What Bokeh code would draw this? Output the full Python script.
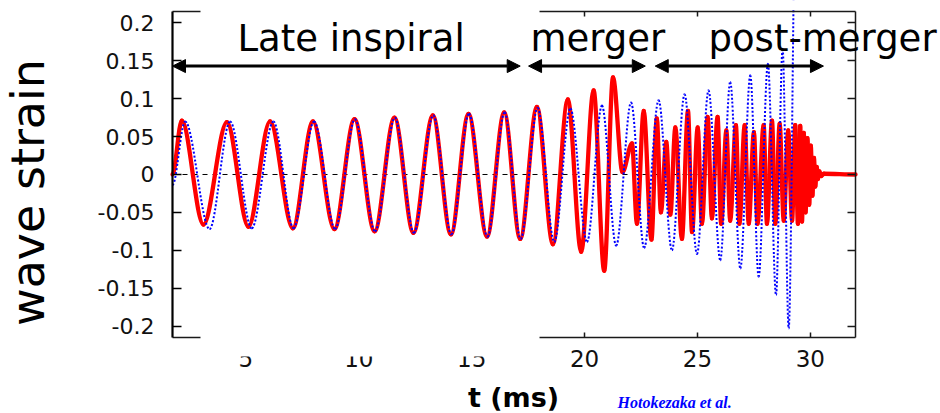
import numpy as np
from bokeh.plotting import figure
from bokeh.models import (Range1d, LinearAxis, FixedTicker, Label, Arrow, NormalHead,
                          BoxAnnotation, CustomJSTickFormatter, ColumnDataSource)
from bokeh.embed import file_html
from bokeh.resources import INLINE

# ---- data: successive extrema (time in ms, strain) ----
red_t = [1.75, 2.16, 3.12, 4.16, 5.11, 6.07, 7.08, 7.97, 8.92, 9.81, 10.70, 11.58, 12.42,
         13.28, 14.08, 14.86, 15.68, 16.44, 17.15, 17.89, 18.60, 19.26, 19.85, 20.40, 20.87,
         21.26, 21.68, 22.10, 22.32, 22.62, 22.96, 23.20, 23.38, 23.62, 23.80, 24.02, 24.31,
         24.58, 24.76, 25.01, 25.20, 25.45, 25.64, 25.89, 26.05, 26.28, 26.45, 26.70, 26.86,
         27.09, 27.27, 27.50, 27.66, 27.93, 28.08, 28.30, 28.45, 28.64, 28.82, 29.02, 29.19,
         29.33, 29.45, 29.55, 29.63, 29.71, 29.79, 29.87, 29.95, 30.02, 30.09, 30.16, 30.22,
         30.28, 30.34, 30.40, 30.48, 30.60, 32.00]
red_h = [0.000, 0.071, -0.066, 0.069, -0.069, 0.070, -0.071, 0.070, -0.072, 0.073, -0.075,
         0.075, -0.077, 0.078, -0.079, 0.080, -0.082, 0.082, -0.085, 0.089, -0.092, 0.099,
         -0.102, 0.111, -0.127, 0.128, 0.003, 0.041, -0.065, 0.084, -0.086, 0.074, -0.050,
         0.043, -0.053, 0.062, -0.085, 0.084, -0.076, 0.062, -0.065, 0.076, -0.058, 0.076,
         -0.065, 0.058, -0.061, 0.065, -0.065, 0.065, -0.065, 0.056, -0.065, 0.065, -0.065,
         0.071, -0.065, 0.067, -0.061, 0.058, -0.061, 0.065, -0.065, 0.064, -0.062, 0.055,
         -0.050, 0.048, -0.040, 0.038, -0.028, 0.022, -0.016, 0.010, -0.006, 0.004, -0.002,
         0.001, 0.000]

blue_t = [1.75, 2.31, 3.39, 4.30, 5.26, 6.22, 7.11, 8.02, 8.95, 9.83, 10.72, 11.60, 12.44,
          13.30, 14.10, 14.88, 15.70, 16.46, 17.17, 17.92, 18.66, 19.37, 20.11, 20.77, 21.40,
          22.06, 22.64, 23.28, 23.87, 24.43, 24.98, 25.49, 26.01, 26.45, 26.90, 27.34, 27.71,
          28.12, 28.48, 28.77, 29.04, 29.38]
blue_h = [-0.014, 0.070, -0.072, 0.070, -0.071, 0.070, -0.071, 0.070, -0.072, 0.073, -0.075,
          0.075, -0.077, 0.078, -0.079, 0.080, -0.082, 0.082, -0.085, 0.088, -0.089, 0.087,
          -0.089, 0.091, -0.094, 0.095, -0.097, 0.098, -0.100, 0.106, -0.105, 0.111, -0.113,
          0.122, -0.124, 0.131, -0.135, 0.146, -0.159, 0.166, -0.203, 0.420]

x_ticks = [5, 10, 15, 20, 25, 30]
y_ticks = [-0.2, -0.15, -0.1, -0.05, 0, 0.05, 0.1, 0.15, 0.2]

phase_names = ["Late inspiral", "merger", "post-merger"]
phase_start = [1.75, 17.52, 23.13]
phase_end = [17.15, 22.69, 30.58]
phase_level = 0.143

# plot box limits (data units)
T_MIN, T_MAX = 1.75, 32.0
H_LIM = 0.215


def bezier_source(t, h):
    t = np.asarray(t, float)
    h = np.asarray(h, float)
    dt = np.diff(t)
    return ColumnDataSource(dict(
        x0=t[:-1], y0=h[:-1], x1=t[1:], y1=h[1:],
        cx0=t[:-1] + dt / 3.0, cy0=h[:-1], cx1=t[1:] - dt / 3.0, cy1=h[1:]))


# the frame spans the whole canvas; the plot box is drawn by axes fixed at its edges
p = figure(width=940, height=413, x_range=Range1d(-5.868, 35.764),
           y_range=Range1d(-0.31525, 0.2295), title=None,
           output_backend="svg", toolbar_location=None,
           min_border=0, min_border_left=0, min_border_right=0, min_border_top=0,
           min_border_bottom=0, outline_line_color=None,
           background_fill_color="white", border_fill_color="white")
p.grid.visible = False

AX = "#1a1a1a"
blank = CustomJSTickFormatter(code="return ''")

xa = p.xaxis[0]
xa.fixed_location = -H_LIM
xa.bounds = (T_MIN, T_MAX)
xa.ticker = FixedTicker(ticks=x_ticks)
xa.major_tick_in = 5
xa.major_tick_out = 0
xa.minor_tick_in = 0
xa.minor_tick_out = 0
xa.axis_line_width = 1.5
xa.axis_line_color = AX
xa.major_tick_line_color = AX
xa.major_tick_line_width = 1.5
xa.major_label_text_font = "DejaVu Sans"
xa.major_label_text_font_size = "23px"
xa.major_label_text_color = "#111111"
xa.major_label_standoff = 13

ya = p.yaxis[0]
ya.fixed_location = T_MIN
ya.bounds = (-H_LIM, H_LIM)
ya.ticker = FixedTicker(ticks=y_ticks)
ya.formatter = CustomJSTickFormatter(code="return String(tick)")
ya.major_tick_in = 9
ya.major_tick_out = 0
ya.minor_tick_in = 0
ya.minor_tick_out = 0
ya.axis_line_width = 2.2
ya.axis_line_color = "black"
ya.major_tick_line_width = 1.5
ya.major_label_text_font = "DejaVu Sans"
ya.major_label_text_font_size = "22px"
ya.major_label_text_color = "#111111"
ya.major_label_standoff = 18

top_axis = LinearAxis(fixed_location=H_LIM, bounds=(T_MIN, T_MAX),
                      ticker=FixedTicker(ticks=x_ticks), formatter=blank,
                      major_label_standoff=0, major_tick_in=5, major_tick_out=0,
                      minor_tick_in=0, minor_tick_out=0, axis_line_width=1.5,
                      axis_line_color=AX, major_tick_line_color=AX, major_tick_line_width=1.5)
p.add_layout(top_axis, "above")
right_axis = LinearAxis(fixed_location=T_MAX, bounds=(-H_LIM, H_LIM),
                        ticker=FixedTicker(ticks=y_ticks), formatter=blank,
                        major_label_standoff=0, major_tick_in=8, major_tick_out=0,
                        minor_tick_in=0, minor_tick_out=0, axis_line_width=1.5,
                        axis_line_color=AX, major_tick_line_color=AX, major_tick_line_width=1.5)
p.add_layout(right_axis, "right")

# zero reference line across the plot box
p.segment(x0=[T_MIN], y0=[0], x1=[T_MAX], y1=[0], line_color="black", line_dash="5 5",
          line_width=1)

bez = dict(x0="x0", y0="y0", x1="x1", y1="y1", cx0="cx0", cy0="cy0", cx1="cx1", cy1="cy1")
p.bezier(source=bezier_source(red_t, red_h), line_color="#ff0000", line_width=4.3,
         line_cap="round", **bez)
p.bezier(source=bezier_source(blue_t, blue_h), line_color="#0000ff", line_width=2,
         line_dash="2 2", **bez)

# white areas of the original picture (canvas pixels, origin bottom-left)
white = dict(left_units="screen", right_units="screen", bottom_units="screen",
             top_units="screen", fill_color="white", fill_alpha=1, line_color=None,
             level="overlay")
p.add_layout(BoxAnnotation(left=170, right=860, bottom=403.4, top=420, **white))
p.add_layout(BoxAnnotation(left=200, right=539, bottom=394, top=420, **white))
p.add_layout(BoxAnnotation(left=200, right=539, bottom=57, top=84, **white))

for s, e in zip(phase_start, phase_end):
    p.add_layout(Arrow(start=NormalHead(size=13, fill_color="black", line_color="black"),
                       end=NormalHead(size=13, fill_color="black", line_color="black"),
                       x_start=s, y_start=phase_level, x_end=e, y_end=phase_level,
                       line_width=3, line_color="black", level="overlay"))

for name, sx in zip(phase_names, [237, 530, 708]):
    p.add_layout(Label(x=sx, y=375, x_units="screen", y_units="screen", text=name,
                       text_font="DejaVu Sans", text_font_size="37px", text_color="black",
                       text_baseline="alphabetic", text_align="left", level="overlay"))

p.add_layout(Label(x=27, y=221, x_units="screen", y_units="screen", text="wave strain",
                   angle=np.pi / 2, text_font="DejaVu Sans", text_font_size="46px",
                   text_color="black", text_align="center", text_baseline="alphabetic",
                   level="overlay"))
p.add_layout(Label(x=513, y=16, x_units="screen", y_units="screen", text="t (ms)",
                   text_font="DejaVu Sans", text_font_style="bold", text_font_size="27px",
                   text_color="black", text_align="center", text_baseline="alphabetic",
                   level="overlay"))
p.add_layout(Label(x=617, y=11, x_units="screen", y_units="screen", text="Hotokezaka et al.",
                   text_font="Liberation Serif", text_font_style="bold italic",
                   text_font_size="16px", text_color="#0000ff", text_align="left",
                   text_baseline="alphabetic", level="overlay"))

open("out.html", "w").write(file_html(p, INLINE))
